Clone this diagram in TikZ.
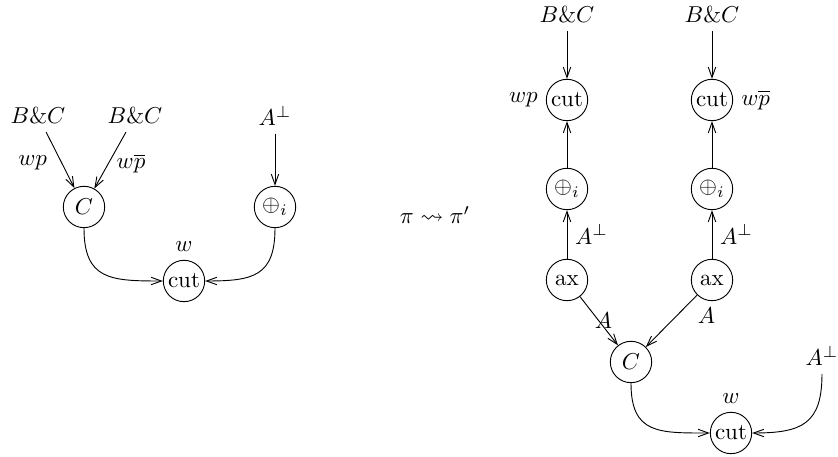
\documentclass[tikz,border=0pt]{standalone}
\usepackage{amssymb}
\usetikzlibrary{arrows.meta}
\begin{document}
\begin{tikzpicture}[x=0.435pt,y=-0.435pt,>={Straight Barb[length=4.5pt,width=3.2pt]}]
\tikzstyle{cell}=[draw,circle,minimum size=18pt,inner sep=1pt]
\useasboundingbox (0,0) rectangle (838,457);
% net pi
\node(l0) at (38,116) {$B\&C$};
\node(l1) at (135,116) {$B\&C$};
\node(l2) at (275,116) {$A^\perp$};
\node[cell](l3) at (84,207) {$C$};
\node[cell](l4) at (275,207) {$\oplus_i$};
\node[cell,label=above:$w$](l5) at (184,281) {cut};
\draw[->] (l0) -- node[pos=0.55,left=1mm]{$wp$} (l3);
\draw[->] (l1) -- node[pos=0.55,right]{$w\overline{p}$} (l3);
\draw[->] (l2) -- (l4);
\draw[->] (l3.south) to[out=-90,in=180,looseness=1.4] (l5.west);
\draw[->] (l4.south) to[out=-90,in=0,looseness=1.4] (l5.east);
\node(t) at (435,215) {$\pi\rightsquigarrow\pi'$};
% net pi'
\node(r0) at (567,15) {$B\&C$};
\node(r1) at (712,15) {$B\&C$};
\node[cell,label=left:$wp$](r2) at (567,100) {cut};
\node[cell,label=right:$w\overline{p}$](r3) at (712,100) {cut};
\node[cell](r4) at (567,189) {$\oplus_i$};
\node[cell](r5) at (712,189) {$\oplus_i$};
\node[cell](r6) at (567,280) {ax};
\node[cell](r7) at (712,280) {ax};
\node[cell](r8) at (631,362) {$C$};
\node(r9) at (822,356) {$A^\perp$};
\node[cell,label=above:$w$](r10) at (731,433) {cut};
\draw[->] (r0) -- (r2);
\draw[->] (r1) -- (r3);
\draw[->] (r4) -- (r2);
\draw[->] (r5) -- (r3);
\draw[->] (r6) -- node[right]{$A^\perp$} (r4);
\draw[->] (r7) -- node[right]{$A^\perp$} (r5);
\draw[->] (r6) -- node[xshift=2pt]{$A$} (r8);
\draw[->] (r7) -- node[pos=0.4,right=2mm]{$A$} (r8);
\draw[->] (r8.south) to[out=-90,in=180,looseness=1.4] (r10.west);
\draw[->] (r9.south) to[out=-90,in=0,looseness=1.4] (r10.east);
\end{tikzpicture}
\end{document}
